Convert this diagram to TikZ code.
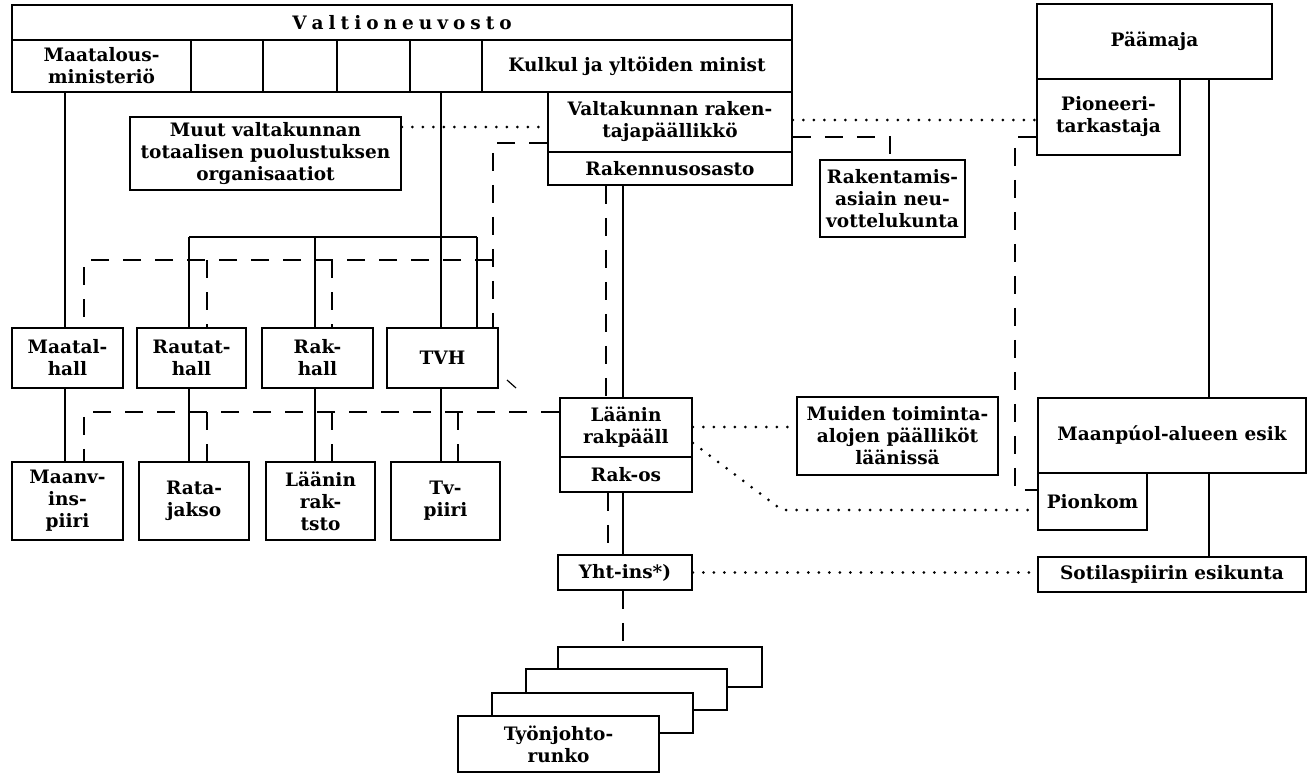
\documentclass[tikz,border=0pt]{standalone}
\usepackage{fontspec}
\setmainfont{DejaVu Serif}
\newcommand\lbl{\fontsize{18.5}{22}\selectfont\bfseries}
\tikzset{
  box/.style={draw, line width=1.9pt, inner sep=0pt, align=center, font=\lbl, fill=white},
  solidline/.style={line width=1.9pt},
  dashline/.style={line width=1.9pt, dash pattern=on 18pt off 14pt},
  dotline/.style={line width=3pt, line cap=round, dash pattern=on 0pt off 10.5pt},
}
\begin{document}
\begin{tikzpicture}[x=1pt,y=-1pt]
\useasboundingbox (0,0) rectangle (1309,774);
% top block
\node[box, minimum width=780, minimum height=35] (vn) at (402,22.5)
  {V\kern5pt a\kern5pt l\kern5pt t\kern5pt i\kern5pt o\kern5pt n\kern5pt e\kern5pt u\kern5pt v\kern5pt o\kern5pt s\kern5pt t\kern5pt o};
\node[box, minimum width=179, minimum height=52] (maamin) at (101.5,66) {Maatalous-\\ministeriö};
\node[box, minimum width=72, minimum height=52] (c1) at (227,66) {};
\node[box, minimum width=74, minimum height=52] (c2) at (300,66) {};
\node[box, minimum width=73, minimum height=52] (c3) at (373.5,66) {};
\node[box, minimum width=72, minimum height=52] (c4) at (446,66) {};
\node[box, minimum width=310, minimum height=52] (kulkul) at (637,66) {Kulkul ja yltöiden minist};
% Valtakunnan
\node[box, minimum width=244, minimum height=60] (vrp) at (670,122) {Valtakunnan raken-\\tajapäällikkö};
\node[box, minimum width=244, minimum height=33] (rakos) at (670,168.5) {Rakennusosasto};
\node[box, minimum width=271, minimum height=73] (muut) at (265.5,153.5) {Muut valtakunnan\\totaalisen puolustuksen\\organisaatiot};
% Paamaja
\node[box, minimum width=235, minimum height=75] (paamaja) at (1154.5,41.5) {Päämaja};
\node[box, minimum width=143, minimum height=76] (pioneeri) at (1108.5,117) {Pioneeri-\\tarkastaja};
\node[box, minimum width=145, minimum height=77] (rakent) at (892.5,198.5) {Rakentamis-\\asiain neu-\\vottelukunta};
% row 1
\node[box, minimum width=111, minimum height=60] (maatal) at (67.5,358) {Maatal-\\hall};
\node[box, minimum width=109, minimum height=60] (rautat) at (191.5,358) {Rautat-\\hall};
\node[box, minimum width=111, minimum height=60] (rakhall) at (317.5,358) {Rak-\\hall};
\node[box, minimum width=111, minimum height=60] (tvh) at (442.5,358) {TVH};
% row 2
\node[box, minimum width=111, minimum height=78] (maanv) at (67.5,501) {Maanv-\\ins-\\piiri};
\node[box, minimum width=110, minimum height=78] (rata) at (194,501) {Rata-\\jakso};
\node[box, minimum width=109, minimum height=78] (lrak) at (320.5,501) {Läänin\\rak-\\tsto};
\node[box, minimum width=109, minimum height=78] (tv) at (445.5,501) {Tv-\\piiri};
% Laanin
\node[box, minimum width=132, minimum height=59] (lrp) at (626,427.5) {Läänin\\rakpääll};
\node[box, minimum width=132, minimum height=35] (rakosl) at (626,474.5) {Rak-os};
\node[box, minimum width=201, minimum height=78] (muiden) at (897.5,436) {Muiden toiminta-\\alojen päälliköt\\läänissä};
\node[box, minimum width=268, minimum height=75] (maanpuol) at (1172,435.5) {Maanpúol-alueen esik};
\node[box, minimum width=109, minimum height=57] (pionkom) at (1092.5,501.5) {Pionkom};
\node[box, minimum width=268, minimum height=35] (sotil) at (1172,574.5) {Sotilaspiirin esikunta};
\node[box, minimum width=134, minimum height=35] (yht) at (625,572.5) {Yht-ins*)};
% stack
\node[box, minimum width=204, minimum height=40] (b4) at (660,667) {};
\node[box, minimum width=201, minimum height=41] (b3) at (626.5,689.5) {};
\node[box, minimum width=201, minimum height=40] (b2) at (592.5,713) {};
\node[box, minimum width=201, minimum height=56] (b1) at (558.5,744) {Työnjohto-\\runko};

% solid connectors
\draw[solidline] (maamin.south -| 65,0) -- (maatal.north -| 65,0);
\draw[solidline] (c4.south -| 441,0) -- (tvh.north -| 441,0);
\coordinate (busL) at (189,237);
\coordinate (busR) at (477,237);
\draw[solidline] (busL) -- (busR);
\draw[solidline] (busL) -- (rautat.north -| busL);
\draw[solidline] (315,237) -- (rakhall.north -| 315,0);
\draw[solidline] (busR) -- (tvh.north -| busR);
\draw[solidline] (maatal.south -| 65,0) -- (maanv.north -| 65,0);
\draw[solidline] (rautat.south -| 189,0) -- (rata.north -| 189,0);
\draw[solidline] (rakhall.south -| 315,0) -- (lrak.north -| 315,0);
\draw[solidline] (tvh.south -| 441,0) -- (tv.north -| 441,0);
\draw[solidline] (rakos.south -| 623,0) -- (lrp.north -| 623,0);
\draw[solidline] (rakosl.south -| 623,0) -- (yht.north -| 623,0);
\draw[solidline] (paamaja.south -| 1209,0) -- (maanpuol.north -| 1209,0);
\draw[solidline] (maanpuol.south -| 1209,0) -- (sotil.north -| 1209,0);
\draw[line width=1.2pt] (507,380) -- (516,388);

% dashed connectors
\draw[dashline] (vrp.west |- 0,143) -- (493,143) -- (tvh.north -| 493,0);
\draw[dashline] (493,260) -- (84,260) -- (maatal.north -| 84,0);
\draw[dashline] (207,260) -- (rautat.north -| 207,0);
\draw[dashline] (332,260) -- (rakhall.north -| 332,0);
\draw[dashline] (rakos.south -| 606,0) -- (lrp.north -| 606,0);
\draw[dashline] (lrp.west |- 0,412) -- (84,412) -- (maanv.north -| 84,0);
\draw[dashline] (207,412) -- (rata.north -| 207,0);
\draw[dashline] (332,412) -- (lrak.north -| 332,0);
\draw[dashline] (458,412) -- (tv.north -| 458,0);
\draw[dashline] (rakosl.south -| 608,0) -- (yht.north -| 608,0);
\draw[dashline] (yht.south -| 623,0) -- (b4.north -| 623,0);
\draw[dashline] (vrp.east |- 0,137) -- (890,137) -- (rakent.north -| 890,0);
\draw[dashline] (pioneeri.west |- 0,137) -- (1015,137) -- (1015,490) -- (pionkom.west |- 0,490);

% dotted connectors
\draw[dotline] (muut.east |- 0,127) -- (vrp.west |- 0,127);
\draw[dotline] (vrp.east |- 0,120) -- (pioneeri.west |- 0,120);
\draw[dotline] (lrp.east |- 0,427) -- (muiden.west |- 0,427);
\draw[dotline] (lrp.east |- 0,443) -- (782,510) -- (pionkom.west |- 0,510);
\draw[dotline] (yht.east) -- (sotil.west |- yht.east);
\end{tikzpicture}
\end{document}
